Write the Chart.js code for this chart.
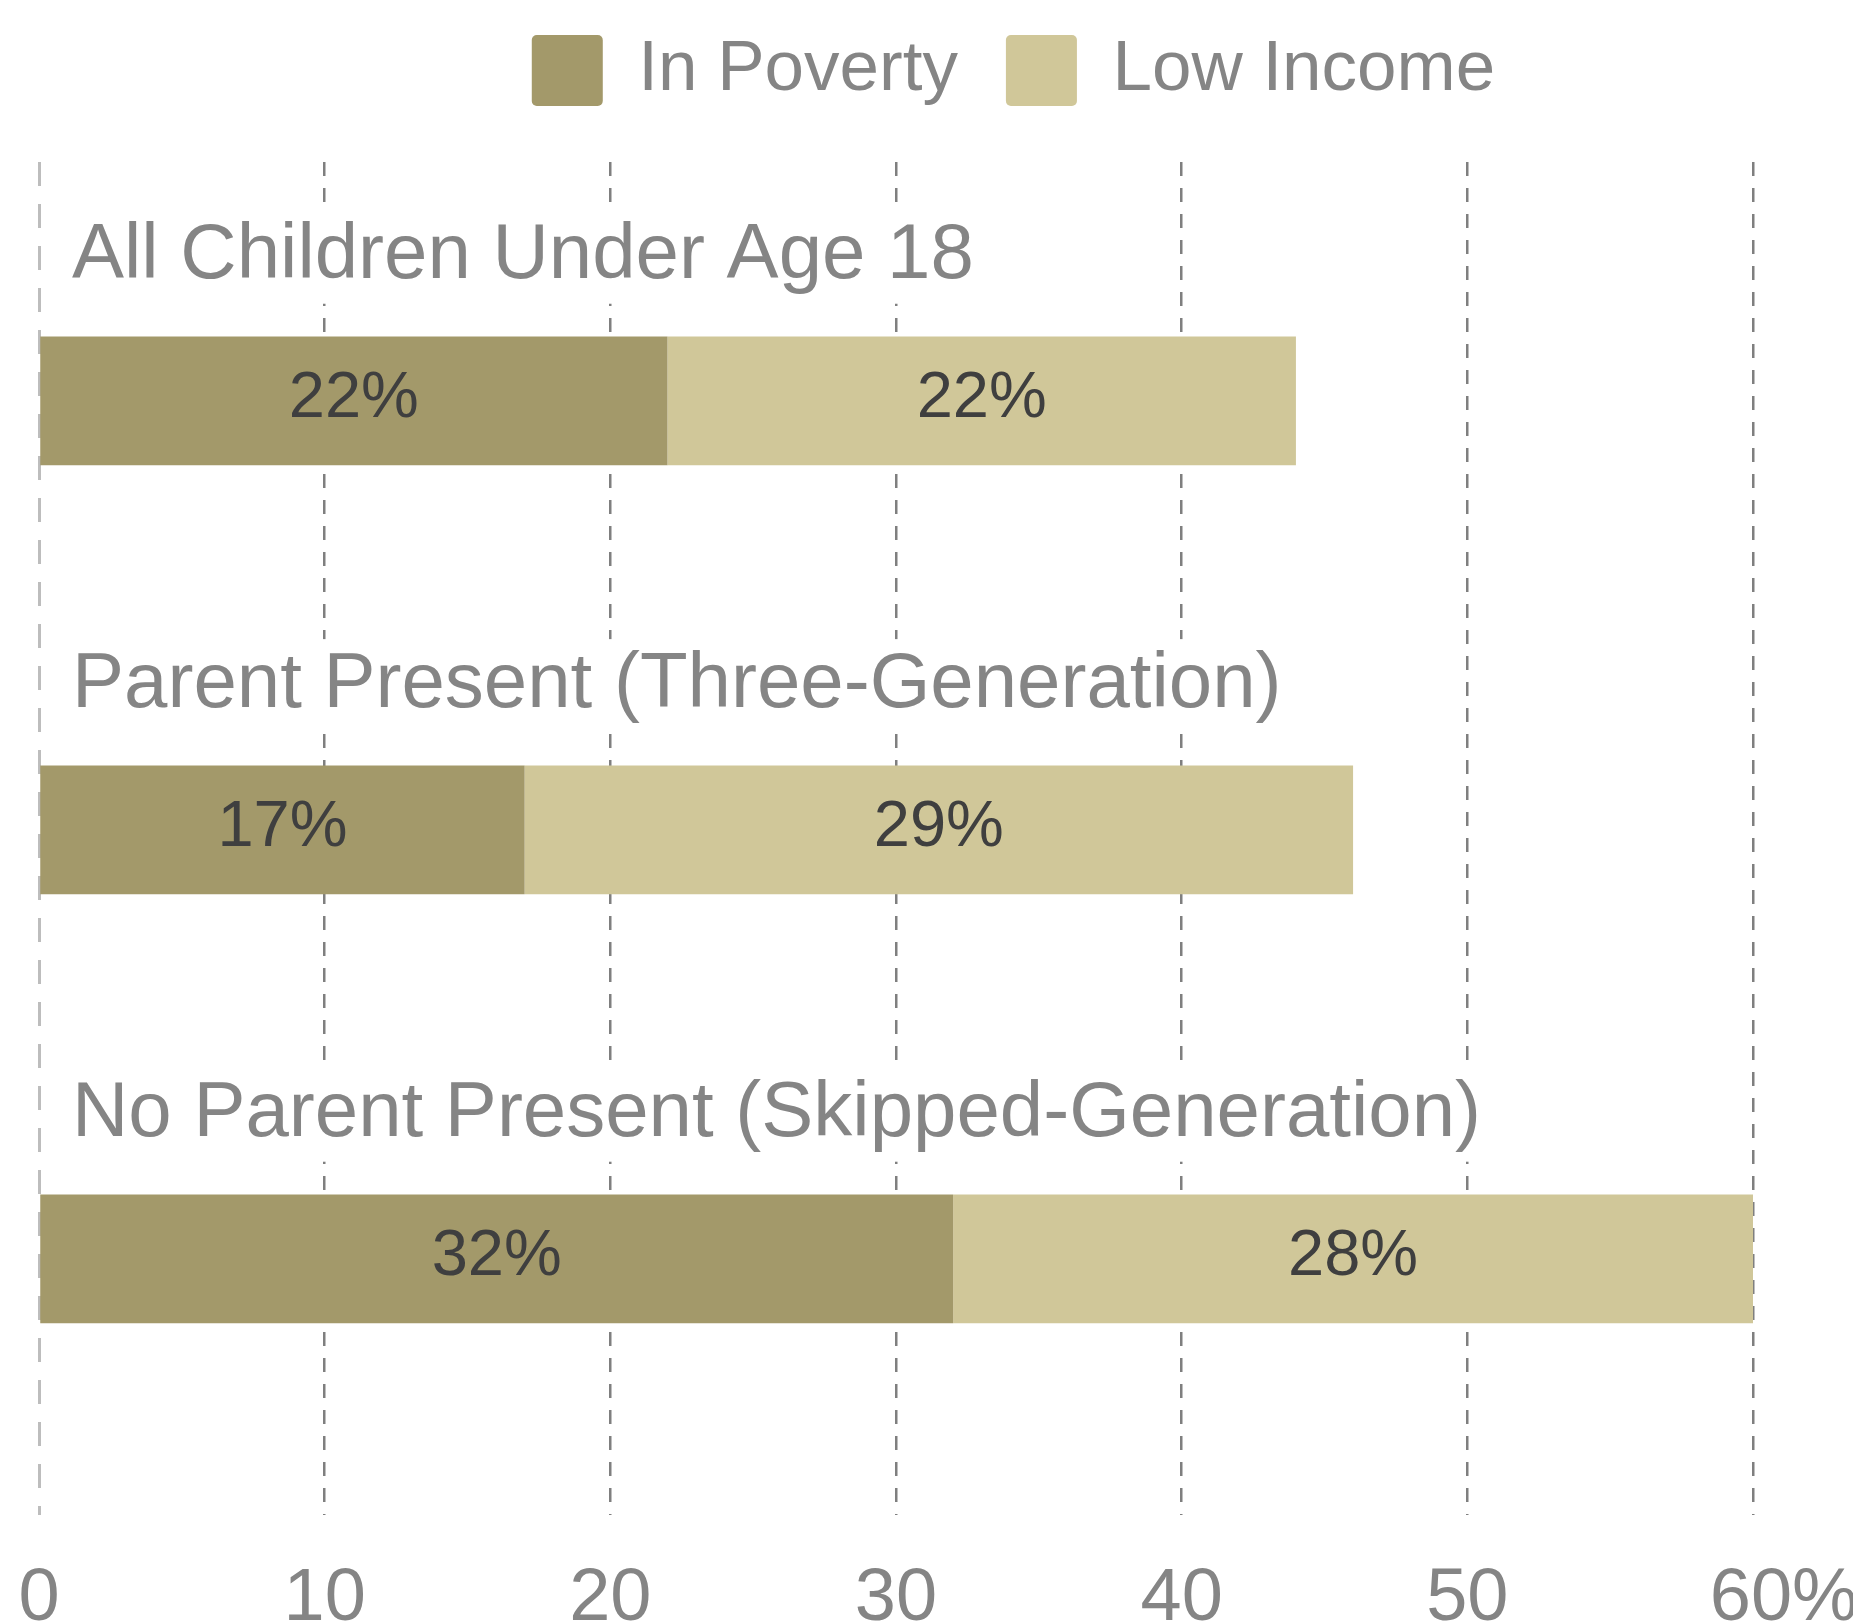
<!DOCTYPE html>
<html>
<head>
<meta charset="utf-8">
<script src="https://cdn.jsdelivr.net/npm/chart.js@4.4.1/dist/chart.umd.min.js"></script>
<style>
html,body{margin:0;padding:0;background:#ffffff;}
#wrap{width:1853px;height:1623px;position:relative;}
</style>
</head>
<body>
<div id="wrap"><canvas id="c"></canvas></div>
<script>
const categories = ['All Children Under Age 18', 'Parent Present (Three-Generation)', 'No Parent Present (Skipped-Generation)'];
const seriesNames = ['In Poverty', 'Low Income'];
const inPoverty = [22, 17, 32];
const lowIncome = [22, 29, 28];
const tickValues = [0, 10, 20, 30, 40, 50, 60];
const tickLabels = ['0', '10', '20', '30', '40', '50', '60%'];

const COLORS = ['#a3996a', '#d0c799'];
const GRAY = '#858585';

Chart.defaults.font.family = '"Liberation Sans", Arial, sans-serif';
Chart.defaults.color = GRAY;

const barLabels = {
  id: 'barLabels',
  afterDatasetsDraw(chart) {
    const ctx = chart.ctx;
    ctx.save();
    ctx.font = '65px "Liberation Sans", Arial, sans-serif';
    ctx.fillStyle = '#3f3f3f';
    ctx.textAlign = 'center';
    ctx.textBaseline = 'middle';
    chart.data.datasets.forEach((ds, i) => {
      const meta = chart.getDatasetMeta(i);
      meta.data.forEach((bar, j) => {
        const p = bar.getProps(['x', 'y', 'base'], true);
        ctx.fillText(ds.data[j] + '%', (p.x + p.base) / 2, p.y - 2);
      });
    });
    ctx.restore();
  }
};

const legendShift = {
  id: 'legendShift',
  afterLayout(chart) {
    const l = chart.legend;
    if (l) { l.left += 134; l.right += 134; }
  }
};

new Chart(document.getElementById('c'), {
  type: 'bar',
  data: {
    labels: categories.map((_, i) => i),
    datasets: [
      { label: seriesNames[0], data: inPoverty, backgroundColor: COLORS[0], borderWidth: 0, borderRadius: 0 },
      { label: seriesNames[1], data: lowIncome, backgroundColor: COLORS[1], borderWidth: 0, borderRadius: 0 }
    ]
  },
  options: {
    indexAxis: 'y',
    responsive: true,
    maintainAspectRatio: false,
    devicePixelRatio: 1,
    animation: false,
    layout: { padding: { top: -13, left: 6, right: 100, bottom: 0 } },
    datasets: { bar: { categoryPercentage: 1, barPercentage: 0.3 } },
    plugins: {
      tooltip: { enabled: false },
      legend: {
        position: 'top',
        align: 'center',
        labels: {
          boxWidth: 71,
          boxHeight: 71,
          padding: 48,
          useBorderRadius: true,
          borderRadius: 5,
          color: GRAY,
          font: { size: 71 }
        }
      }
    },
    scales: {
      x: {
        type: 'linear',
        position: 'bottom',
        stacked: true,
        min: 0,
        max: 60,
        afterBuildTicks(s) { s.ticks = tickValues.map(v => ({ value: v })); },
        afterFit(s) { s.height = 108; s.paddingLeft = 0; s.paddingRight = 0; },
        ticks: {
          padding: 40,
          color: GRAY,
          font: { size: 74 },
          maxRotation: 0,
          autoSkip: false,
          callback(v, i) { return i === tickLabels.length - 1 ? '   ' + tickLabels[i] : tickLabels[i]; }
        },
        grid: {
          drawTicks: false,
          lineWidth: 2.5,
          color: (c) => (c.index === 0 ? 'rgba(0,0,0,0)' : '#7f7f7f')
        },
        border: { display: false, dash: [14, 12] }
      },
      x2: {
        type: 'linear',
        position: 'top',
        min: 0,
        max: 60,
        afterBuildTicks(s) { s.ticks = [{ value: tickValues[0] }]; },
        afterFit(s) { s.paddingLeft = 0; s.paddingRight = 0; },
        ticks: { display: false },
        grid: { color: '#bdbdbd', lineWidth: 3, drawTicks: true, tickLength: 46, tickColor: 'rgba(0,0,0,0)' },
        border: { display: false, dash: [24, 18] }
      },
      y: {
        type: 'linear',
        position: 'left',
        stacked: true,
        reverse: true,
        offset: false,
        min: -0.557,
        max: 2.597,
        afterBuildTicks(s) { s.ticks = categories.map((_, i) => ({ value: i })); },
        afterFit(s) { s.width = 33; s.paddingTop = 0; s.paddingBottom = 0; },
        ticks: {
          mirror: true,
          padding: 33,
          labelOffset: -144,
          autoSkip: false,
          z: 1,
          color: GRAY,
          font: { size: 78 },
          showLabelBackdrop: true,
          backdropColor: '#ffffff',
          backdropPadding: (c) => ({ top: c.index === 0 ? 90 : 2, bottom: 14, left: 25, right: 14 }),
          callback(v) { return categories[v]; }
        },
        grid: { display: false, drawTicks: false, offset: false },
        border: { display: false }
      }
    }
  },
  plugins: [barLabels, legendShift]
});
</script>
</body>
</html>
